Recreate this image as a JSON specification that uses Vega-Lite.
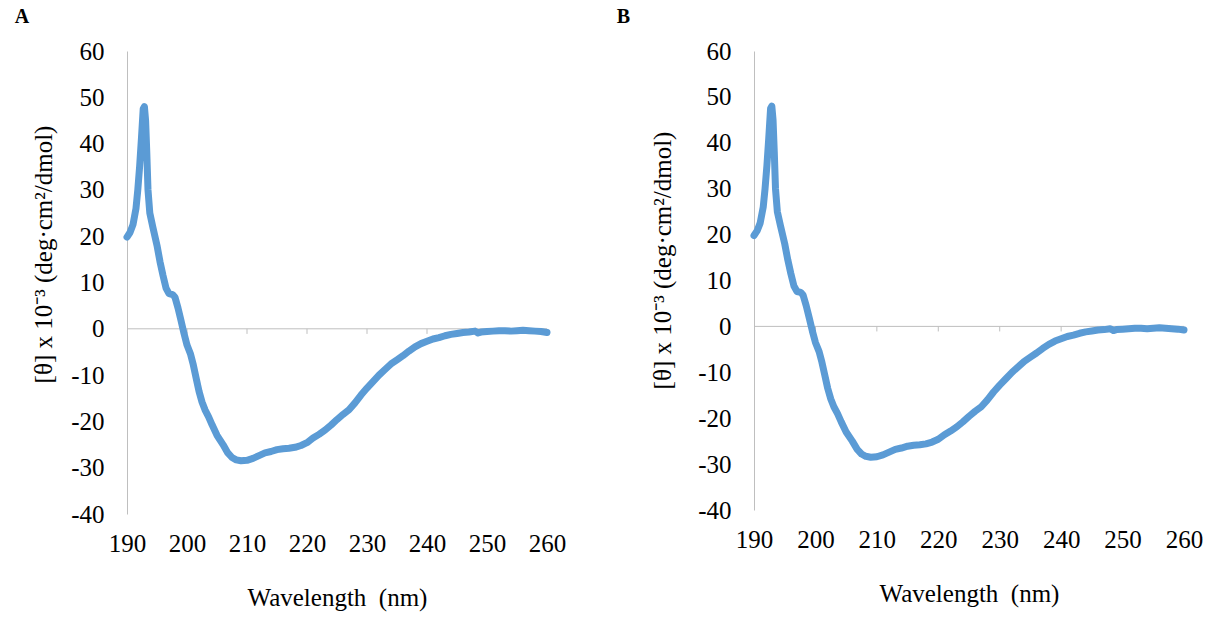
{
  "$schema": "https://vega.github.io/schema/vega-lite/v6.json",
  "background": "white",
  "padding": {"left": 14, "top": 7, "right": 5, "bottom": 5},
  "spacing": 50,
  "config": {
    "font": "Liberation Serif",
    "view": {"stroke": null},
    "axis": {"labelFont": "Liberation Serif", "titleFont": "Liberation Serif", "labelColor": "#000", "titleColor": "#000", "labelFontSize": 25, "titleFontSize": 25, "titleFontWeight": "normal", "grid": false, "ticks": false, "labelFlush": false, "labelExpr": "'' + datum.value"},
    "title": {"font": "Liberation Serif", "fontSize": 20, "fontWeight": "bold", "anchor": "start", "frame": "bounds", "color": "#000", "offset": 12}
  },
  "datasets": {
    "cd": [
      {"wl": 190, "v": 19.8}, {"wl": 190.5, "v": 20.8}, {"wl": 191, "v": 22.5}, {"wl": 191.5, "v": 26}, {"wl": 191.8, "v": 30},
      {"wl": 192.1, "v": 35}, {"wl": 192.4, "v": 41}, {"wl": 192.7, "v": 47.5}, {"wl": 192.9, "v": 48}, {"wl": 193.1, "v": 45},
      {"wl": 193.3, "v": 38}, {"wl": 193.5, "v": 30}, {"wl": 193.8, "v": 25}, {"wl": 194.3, "v": 22}, {"wl": 195, "v": 18},
      {"wl": 195.5, "v": 14.5}, {"wl": 196, "v": 11.5}, {"wl": 196.5, "v": 8.8}, {"wl": 197, "v": 7.6}, {"wl": 197.6, "v": 7.4},
      {"wl": 198, "v": 6.8}, {"wl": 198.5, "v": 4.5}, {"wl": 199, "v": 1.8}, {"wl": 199.5, "v": -1}, {"wl": 200, "v": -3.5},
      {"wl": 200.6, "v": -5.5}, {"wl": 201, "v": -7.5}, {"wl": 201.5, "v": -10.5}, {"wl": 202, "v": -13.5}, {"wl": 202.5, "v": -15.8},
      {"wl": 203, "v": -17.5}, {"wl": 203.6, "v": -19}, {"wl": 204.2, "v": -20.8}, {"wl": 205, "v": -23}, {"wl": 206, "v": -25},
      {"wl": 206.8, "v": -26.8}, {"wl": 207.5, "v": -27.8}, {"wl": 208.2, "v": -28.3}, {"wl": 209, "v": -28.5}, {"wl": 210, "v": -28.4},
      {"wl": 211, "v": -28}, {"wl": 212, "v": -27.4}, {"wl": 213, "v": -26.8}, {"wl": 214, "v": -26.5}, {"wl": 215, "v": -26.1},
      {"wl": 216, "v": -25.9}, {"wl": 217, "v": -25.8}, {"wl": 218, "v": -25.6}, {"wl": 219, "v": -25.2}, {"wl": 220, "v": -24.6},
      {"wl": 221, "v": -23.6}, {"wl": 222, "v": -22.8}, {"wl": 223, "v": -21.9}, {"wl": 224, "v": -20.8}, {"wl": 225, "v": -19.6},
      {"wl": 226, "v": -18.5}, {"wl": 227, "v": -17.5}, {"wl": 228, "v": -16}, {"wl": 229, "v": -14.3}, {"wl": 230, "v": -12.8},
      {"wl": 231, "v": -11.4}, {"wl": 232, "v": -10}, {"wl": 233, "v": -8.8}, {"wl": 234, "v": -7.6}, {"wl": 235, "v": -6.7},
      {"wl": 236, "v": -5.8}, {"wl": 237, "v": -4.8}, {"wl": 238, "v": -3.9}, {"wl": 239, "v": -3.2}, {"wl": 240, "v": -2.7},
      {"wl": 241, "v": -2.2}, {"wl": 242, "v": -1.9}, {"wl": 243, "v": -1.5}, {"wl": 244, "v": -1.2}, {"wl": 245, "v": -1.0},
      {"wl": 246, "v": -0.8}, {"wl": 247, "v": -0.7}, {"wl": 248, "v": -0.5}, {"wl": 248.5, "v": -0.9}, {"wl": 249, "v": -0.7},
      {"wl": 250, "v": -0.6}, {"wl": 251, "v": -0.5}, {"wl": 252, "v": -0.4}, {"wl": 253, "v": -0.4}, {"wl": 254, "v": -0.5},
      {"wl": 255, "v": -0.4}, {"wl": 256, "v": -0.3}, {"wl": 257, "v": -0.4}, {"wl": 258, "v": -0.5}, {"wl": 259, "v": -0.6},
      {"wl": 260, "v": -0.8}
    ],
    "ticks": [{"t": 200}, {"t": 210}, {"t": 220}, {"t": 230}, {"t": 240}, {"t": 250}, {"t": 260}],
    "zero": [{"x0": 190, "x1": 260, "y0": 0}]
  },
  "hconcat": [
    {
      "title": {"text": "A", "dx": -17},
      "width": 420,
      "height": 463,
      "layer": [
        {
          "data": {"name": "zero"},
          "mark": {"type": "rule", "color": "#BFBFBF", "strokeWidth": 1},
          "encoding": {
            "x": {"field": "x0", "type": "quantitative", "scale": {"domain": [190, 260], "nice": false, "zero": false}},
            "x2": {"field": "x1"},
            "y": {"field": "y0", "type": "quantitative", "scale": {"domain": [-40, 60], "nice": false}}
          }
        },
        {
          "data": {"name": "ticks"},
          "mark": {"type": "rule", "color": "#BFBFBF", "strokeWidth": 1},
          "encoding": {
            "x": {"field": "t", "type": "quantitative"},
            "y": {"datum": 0, "type": "quantitative"},
            "y2": {"datum": -1.1}
          }
        },
        {
          "data": {"name": "cd"},
          "mark": {"type": "line", "color": "#5B9BD5", "strokeWidth": 7, "strokeCap": "round", "strokeJoin": "round"},
          "encoding": {
            "x": {"field": "wl", "type": "quantitative", "scale": {"domain": [190, 260], "nice": false, "zero": false},
              "axis": {"values": [190, 200, 210, 220, 230, 240, 250, 260], "domain": false, "labelPadding": 17, "title": "Wavelength\u00a0 (nm)", "titlePadding": 29}},
            "y": {"field": "v", "type": "quantitative", "scale": {"domain": [-40, 60], "nice": false},
              "axis": {"values": [-40, -30, -20, -10, 0, 10, 20, 30, 40, 50, 60], "domain": true, "domainColor": "#BFBFBF", "labelPadding": 23, "title": "[θ] x 10⁻³ (deg·cm²/dmol)", "titlePadding": 14, "titleY": 203}}
          }
        }
      ]
    },
    {
      "title": {"text": "B", "dx": -34},
      "width": 430,
      "height": 459,
      "layer": [
        {
          "data": {"name": "zero"},
          "mark": {"type": "rule", "color": "#BFBFBF", "strokeWidth": 1},
          "encoding": {
            "x": {"field": "x0", "type": "quantitative", "scale": {"domain": [190, 260], "nice": false, "zero": false}},
            "x2": {"field": "x1"},
            "y": {"field": "y0", "type": "quantitative", "scale": {"domain": [-40, 60], "nice": false}}
          }
        },
        {
          "data": {"name": "ticks"},
          "mark": {"type": "rule", "color": "#BFBFBF", "strokeWidth": 1},
          "encoding": {
            "x": {"field": "t", "type": "quantitative"},
            "y": {"datum": 0, "type": "quantitative"},
            "y2": {"datum": -1.1}
          }
        },
        {
          "data": {"name": "cd"},
          "mark": {"type": "line", "color": "#5B9BD5", "strokeWidth": 7, "strokeCap": "round", "strokeJoin": "round"},
          "encoding": {
            "x": {"field": "wl", "type": "quantitative", "scale": {"domain": [190, 260], "nice": false, "zero": false},
              "axis": {"values": [190, 200, 210, 220, 230, 240, 250, 260], "domain": false, "labelPadding": 17, "title": "Wavelength\u00a0 (nm)", "titlePadding": 29}},
            "y": {"field": "v", "type": "quantitative", "scale": {"domain": [-40, 60], "nice": false},
              "axis": {"values": [-40, -30, -20, -10, 0, 10, 20, 30, 40, 50, 60], "domain": true, "domainColor": "#BFBFBF", "labelPadding": 23, "title": "[θ] x 10⁻³ (deg·cm²/dmol)", "titlePadding": 22, "titleY": 209}}
          }
        }
      ]
    }
  ]
}
